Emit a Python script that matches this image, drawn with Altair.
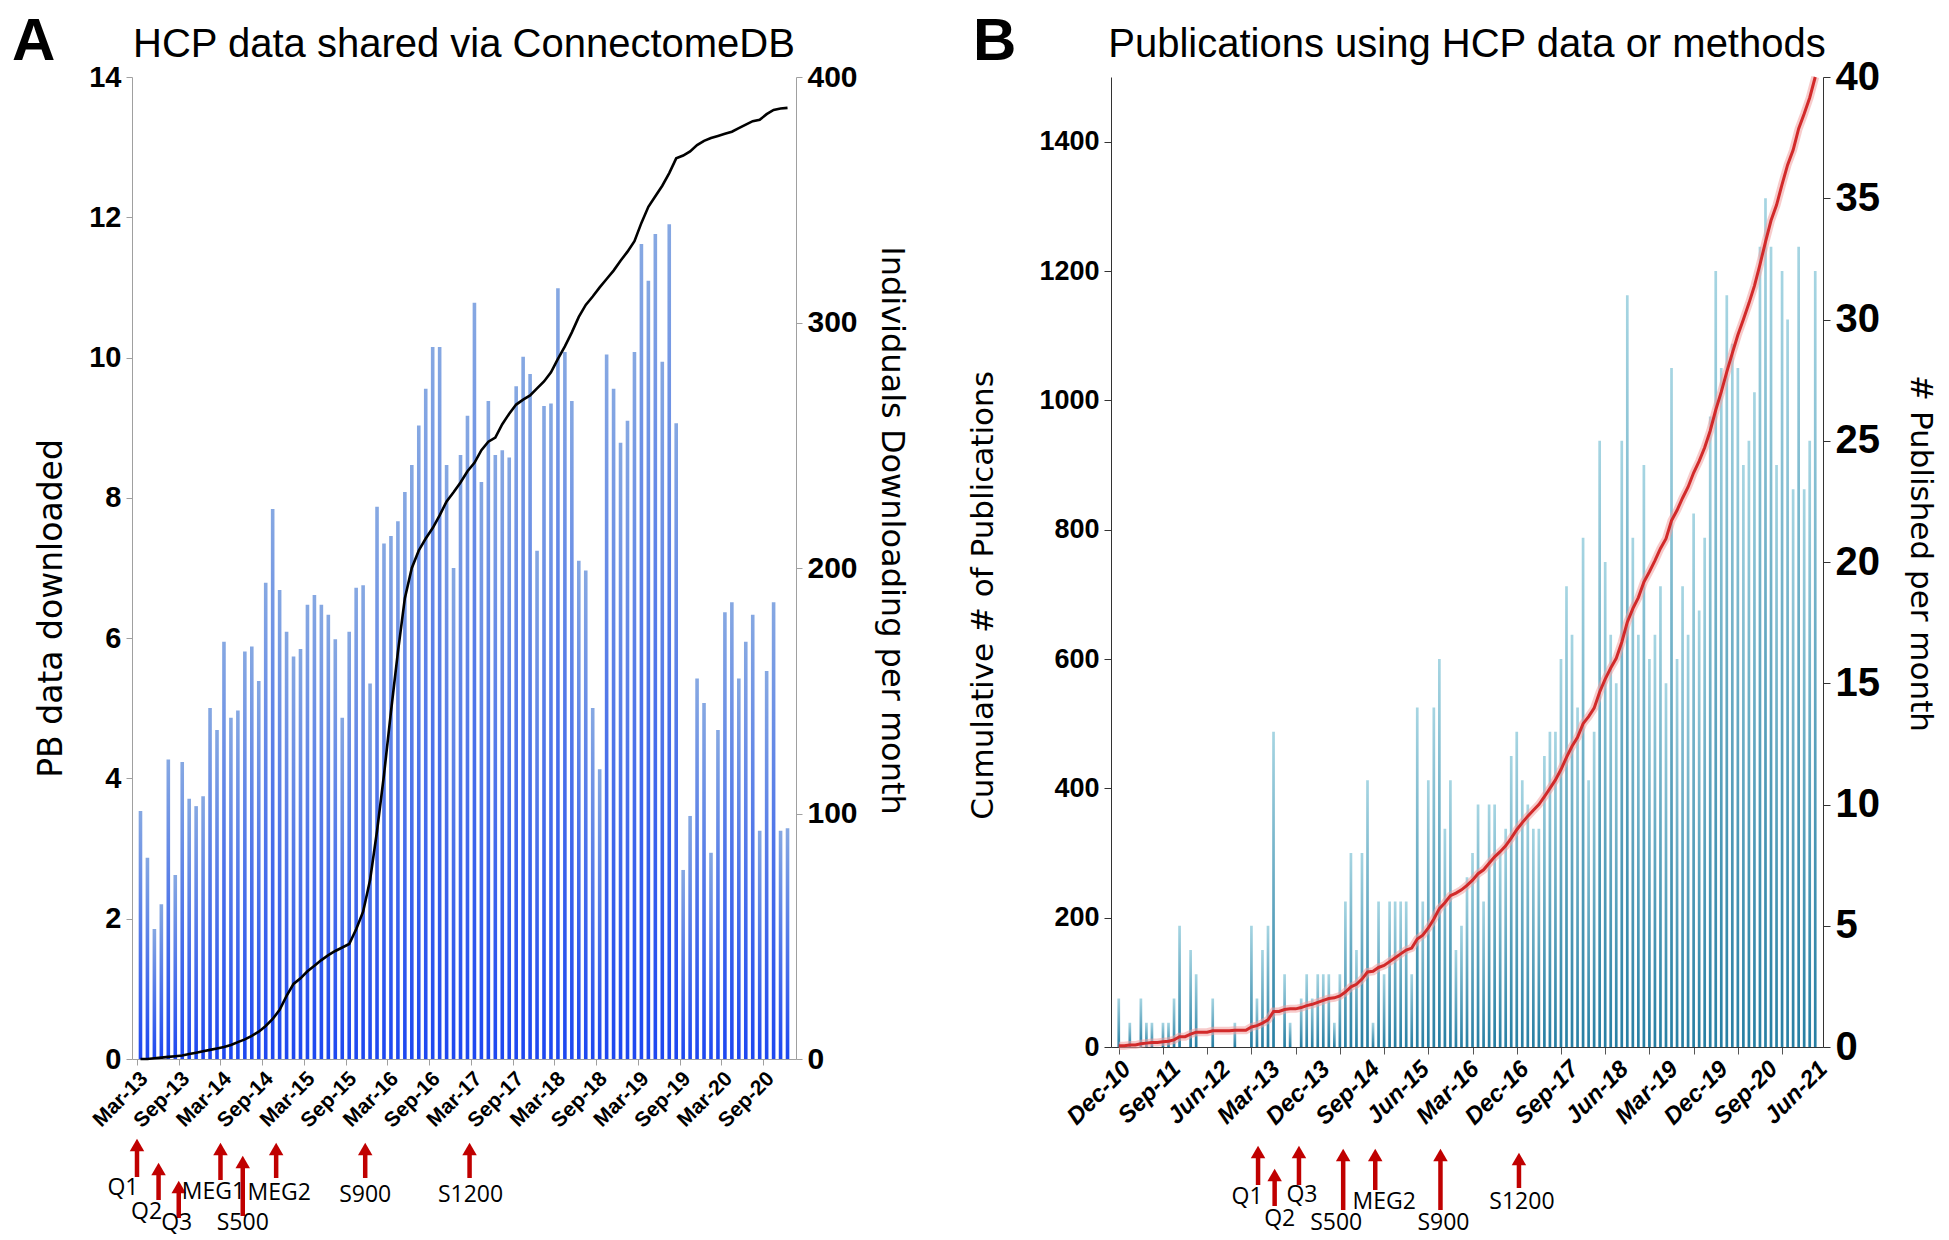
import json
import altair as alt
import pandas as pd

# ---------------- data ----------------
a_title = "HCP data shared via ConnectomeDB"
b_title = "Publications using HCP data or methods"

a_tick_labels = ["Mar-13", "Sep-13", "Mar-14", "Sep-14", "Mar-15", "Sep-15", "Mar-16", "Sep-16",
                 "Mar-17", "Sep-17", "Mar-18", "Sep-18", "Mar-19", "Sep-19", "Mar-20", "Sep-20"]
b_tick_labels = ["Dec-10", "Sep-11", "Jun-12", "Mar-13", "Dec-13", "Sep-14", "Jun-15", "Mar-16",
                 "Dec-16", "Sep-17", "Jun-18", "Mar-19", "Dec-19", "Sep-20", "Jun-21"]

# Panel A: monthly individuals downloading (bars, right axis), Mar-13 .. Dec-20
a_individuals = [101, 82, 53, 63, 122, 75, 121, 106, 103, 107,
                 143, 134, 170, 139, 142, 166, 168, 154, 194, 224,
                 191, 174, 164, 167, 185, 189, 185, 181, 171, 139,
                 174, 192, 193, 153, 225, 210, 213, 219, 231, 242,
                 258, 273, 290, 290, 242, 200, 246, 262, 308, 235,
                 268, 246, 248, 245, 274, 286, 279, 207, 266, 267,
                 314, 288, 268, 203, 199, 143, 118, 287, 273, 251,
                 260, 288, 332, 317, 336, 284, 340, 259, 77, 99,
                 155, 145, 84, 134, 182, 186, 155, 170, 181, 93,
                 158, 186, 93, 94]
# Panel A: cumulative PB downloaded (line, left axis)
a_pb_cumulative = [0.00, 0.00, 0.01, 0.02, 0.03, 0.04, 0.05, 0.07, 0.09, 0.11,
                   0.13, 0.15, 0.17, 0.20, 0.24, 0.28, 0.33, 0.39, 0.47, 0.57,
                   0.70, 0.90, 1.07, 1.15, 1.25, 1.33, 1.41, 1.48, 1.54, 1.59,
                   1.64, 1.85, 2.10, 2.55, 3.25, 4.05, 4.95, 5.80, 6.57, 7.00,
                   7.25, 7.42, 7.57, 7.75, 7.95, 8.08, 8.22, 8.38, 8.50, 8.68,
                   8.80, 8.86, 9.05, 9.20, 9.33, 9.40, 9.46, 9.56, 9.66, 9.79,
                   9.98, 10.16, 10.36, 10.58, 10.75, 10.87, 11.00, 11.12, 11.24, 11.38,
                   11.51, 11.66, 11.92, 12.15, 12.30, 12.45, 12.63, 12.84, 12.88, 12.94,
                   13.03, 13.09, 13.13, 13.16, 13.19, 13.22, 13.27, 13.32, 13.37, 13.39,
                   13.47, 13.53, 13.55, 13.56]

# Panel B: publications per month (bars, right axis), Dec-10 .. Jun-21
b_published = [2, 0, 1, 0, 2, 1, 1, 0, 1, 1,
               2, 5, 0, 4, 3, 0, 0, 2, 0, 0,
               0, 1, 0, 0, 5, 2, 4, 5, 13, 0,
               3, 1, 0, 2, 3, 2, 3, 3, 3, 1,
               3, 6, 8, 4, 8, 11, 1, 6, 3, 6,
               6, 6, 6, 3, 14, 6, 11, 14, 16, 9,
               11, 4, 5, 7, 8, 10, 6, 10, 10, 8,
               9, 12, 13, 11, 10, 9, 9, 12, 13, 13,
               16, 19, 17, 14, 21, 11, 13, 25, 20, 17,
               15, 25, 31, 21, 17, 24, 16, 17, 19, 15,
               28, 16, 19, 17, 22, 18, 21, 26, 32, 28,
               31, 29, 28, 24, 25, 27, 33, 35, 33, 24,
               32, 30, 23, 33, 23, 25, 32]
# Panel B: cumulative publications (line, left axis)
b_cumulative = [2, 2, 3, 3, 5, 6, 7, 7, 8, 9,
                11, 16, 16, 20, 23, 23, 23, 25, 25, 25,
                25, 26, 26, 26, 31, 33, 37, 42, 55, 55,
                58, 59, 59, 61, 64, 66, 69, 72, 75, 76,
                79, 85, 93, 97, 105, 116, 117, 123, 126, 132,
                138, 144, 150, 153, 167, 173, 184, 198, 214, 223,
                234, 238, 243, 250, 258, 268, 274, 284, 294, 302,
                311, 323, 336, 347, 357, 366, 375, 387, 400, 413,
                429, 448, 465, 479, 500, 511, 524, 549, 569, 586,
                601, 626, 657, 678, 695, 719, 735, 752, 771, 786,
                814, 830, 849, 866, 888, 906, 927, 953, 985, 1013,
                1044, 1073, 1101, 1125, 1150, 1177, 1210, 1245, 1278, 1302,
                1334, 1364, 1387, 1420, 1443, 1468, 1500]

# data release markers (position in months from the first bar)
a_release_labels = ["Q1", "Q2", "Q3", "MEG1", "S500", "MEG2", "S900", "S1200"]
a_release_pos = [-0.5, 2.6, 5.5, 11.5, 14.7, 19.5, 32.3, 47.3]
b_release_labels = ["Q1", "Q2", "Q3", "S500", "MEG2", "S900", "S1200"]
b_release_pos = [25.2, 28.2, 32.6, 40.6, 46.4, 58.2, 72.4]

# ---------------- layout / style ----------------
RED = "#c00000"
A_W, A_H = 664, 982
B_W, B_H = 712, 970
PLOT_TOP = 72  # page y of the plot tops
LABEL_FONT = "Liberation Sans"
TITLE_FONT = "DejaVu Sans"

# arrow tip y, arrow bottom y, label dx, label centre y (page px)
a_arrow_layout = {"Q1": (1133, 1172, -14, 1183), "Q2": (1157, 1195, -12, 1207),
                  "Q3": (1175, 1213, -2, 1218), "MEG1": (1137, 1175, -7, 1187),
                  "S500": (1150, 1211, 0, 1218), "MEG2": (1137, 1173, 3, 1188),
                  "S900": (1137, 1173, 0, 1190), "S1200": (1137, 1173, 1, 1190)}
b_arrow_layout = {"Q1": (1140, 1180, -11, 1192), "Q2": (1163, 1201, 5, 1214),
                  "Q3": (1140, 1180, 3, 1190), "S500": (1143, 1205, -7, 1218),
                  "MEG2": (1143, 1185, 9, 1197), "S900": (1143, 1205, 3, 1218),
                  "S1200": (1147, 1183, 3, 1197)}


def arrows(labels, positions, layout, xscale):
    layers = []
    for lab, pos in zip(labels, positions):
        tip, bot, dx, ly = layout[lab]
        tip -= PLOT_TOP
        bot -= PLOT_TOP
        ly -= PLOT_TOP
        d = pd.DataFrame({"i": [pos], "lab": [lab]})
        c = alt.Chart(d)
        layers.append(c.mark_rule(color=RED, strokeWidth=4.5).encode(
            x=alt.X("i:Q", scale=xscale), y=alt.value(tip + 11), y2=alt.value(bot)))
        layers.append(c.mark_point(shape="triangle-up", filled=True, color=RED,
                                   opacity=1, size=210).encode(
            x=alt.X("i:Q", scale=xscale), y=alt.value(tip + 7)))
        layers.append(c.mark_text(font="Open Sans", fontSize=23, color="black",
                                  align="center", baseline="middle", dx=dx).encode(
            x=alt.X("i:Q", scale=xscale), y=alt.value(ly), text="lab:N"))
    return layers


def label_text(text, x, y, size, weight, align):
    d = pd.DataFrame({"t": [text]})
    return alt.Chart(d).mark_text(font="Liberation Sans", fontSize=size, fontWeight=weight,
                                  color="black", align=align, baseline="alphabetic").encode(
        x=alt.value(x), y=alt.value(y), text="t:N")


def y_axis(orient, values, title, title_size, title_x, title_y, label_size, line_color, tick_size):
    return alt.Axis(orient=orient, values=values, title=title, format="d",
                    titleFont=TITLE_FONT, titleFontSize=title_size, titleFontWeight="normal",
                    titleColor="black", titleX=title_x, titleY=title_y, titleBaseline="middle",
                    labelFont=LABEL_FONT, labelFontWeight="bold", labelFontSize=label_size,
                    labelColor="black", labelPadding=5, tickSize=tick_size, tickColor=line_color,
                    domainColor=line_color, grid=False)


# ---------------- panel A ----------------
df_a = pd.DataFrame({"i": list(range(len(a_individuals))), "ind": a_individuals, "pb": a_pb_cumulative})
xs_a = alt.Scale(domain=[-0.5, 93.5], nice=False, zero=False)
a_xaxis = alt.Axis(values=[-0.5 + 3 * k for k in range(32)], labels=False, title=None,
                   tickSize=6, tickColor="#a0a0a0", domainColor="#a0a0a0", grid=False)
a_lab_df = pd.DataFrame({"i": [-0.5 + 6 * k for k in range(len(a_tick_labels))], "t": a_tick_labels})
a_xlabels = alt.Chart(a_lab_df).mark_text(
    font=LABEL_FONT, fontWeight="bold", fontSize=21, color="black",
    angle=315, align="right", baseline="top").encode(
    x=alt.X("i:Q", scale=xs_a), y=alt.value(A_H + 9), text="t:N")

grad_a = {"gradient": "linear", "x1": 0, "y1": 0, "x2": 0, "y2": 1,
          "stops": [{"offset": 0, "color": "#86a8e2"}, {"offset": 1, "color": "#1d47f0"}]}
bars_a = alt.Chart(df_a).mark_bar(size=3.6, color=grad_a, orient="vertical").encode(
    x=alt.X("i:Q", scale=xs_a, axis=a_xaxis),
    y=alt.Y("ind:Q", scale=alt.Scale(domain=[0, 400], nice=False),
            axis=y_axis("right", [0, 100, 200, 300, 400],
                        "Individuals     Downloading     per     month",
                        32, 95, 453, 30, "#a0a0a0", 6)))
line_a = alt.Chart(df_a).mark_line(color="black", strokeWidth=2.6).encode(
    x=alt.X("i:Q", scale=xs_a),
    y=alt.Y("pb:Q", scale=alt.Scale(domain=[0, 14], nice=False),
            axis=y_axis("left", list(range(0, 15, 2)), "PB     data     downloaded",
                        33, -81, 531, 29, "#a0a0a0", 6)))

panel_a = alt.layer(
    bars_a, line_a, a_xlabels,
    *arrows(a_release_labels, a_release_pos, a_arrow_layout, xs_a),
    label_text("A", -120, -17, 60, "bold", "left"),
    label_text(a_title, A_W / 2, -20, 40, "normal", "center"),
).resolve_scale(y="independent").properties(width=A_W, height=A_H)

# ---------------- panel B ----------------
df_b = pd.DataFrame({"i": list(range(len(b_published))), "pub": b_published, "cum": b_cumulative})
xs_b = alt.Scale(domain=[-0.5, 126.5], nice=False, zero=False)
b_xaxis = alt.Axis(values=list(range(len(b_published))), labels=False, title=None,
                   tickSize=7, tickColor="#555555", domainColor="#333333", grid=False)
b_lab_df = pd.DataFrame({"i": [9 * k for k in range(len(b_tick_labels))], "t": b_tick_labels})
b_xlabels = alt.Chart(b_lab_df).mark_text(
    font=LABEL_FONT, fontWeight="bold", fontStyle="italic", fontSize=24, color="black",
    angle=315, align="right", baseline="top").encode(
    x=alt.X("i:Q", scale=xs_b), y=alt.value(B_H + 10), text="t:N")

grad_b = {"gradient": "linear", "x1": 0, "y1": 0, "x2": 0, "y2": 1,
          "stops": [{"offset": 0, "color": "#a6d5e2"}, {"offset": 1, "color": "#277fa3"}]}
bars_b = alt.Chart(df_b).mark_bar(size=2.7, color=grad_b, orient="vertical").encode(
    x=alt.X("i:Q", scale=xs_b, axis=b_xaxis),
    y=alt.Y("pub:Q", scale=alt.Scale(domain=[0, 40], nice=False),
            axis=y_axis("right", list(range(0, 41, 5)), "#  Published  per  month",
                        31, 96, 476, 40, "#333333", 7)))
glow_b = alt.Chart(df_b).mark_line(color="#f0a0a0", strokeWidth=8, opacity=0.55).encode(
    x=alt.X("i:Q", scale=xs_b),
    y=alt.Y("cum:Q", scale=alt.Scale(domain=[0, 1500], nice=False),
            axis=y_axis("left", list(range(0, 1401, 200)), "Cumulative  #  of  Publications",
                        31, -128, 518, 27, "#333333", 7)))
line_b = alt.Chart(df_b).mark_line(color="#d22a2a", strokeWidth=3).encode(
    x=alt.X("i:Q", scale=xs_b),
    y=alt.Y("cum:Q"))

panel_b = alt.layer(
    bars_b, alt.layer(glow_b, line_b), b_xlabels,
    *arrows(b_release_labels, b_release_pos, b_arrow_layout, xs_b),
    label_text("B", -138, -17, 60, "bold", "left"),
    label_text(b_title, B_W / 2, -20, 40, "normal", "center"),
).resolve_scale(y="independent").properties(width=B_W, height=B_H)

chart = alt.hconcat(panel_a, panel_b, spacing=315, bounds="flush").properties(
    padding={"left": 4, "top": 4, "right": 4, "bottom": 4},
    background="white",
).configure_view(stroke=None)

chart.save("out.html", embed_options={"renderer": "svg", "actions": False})
